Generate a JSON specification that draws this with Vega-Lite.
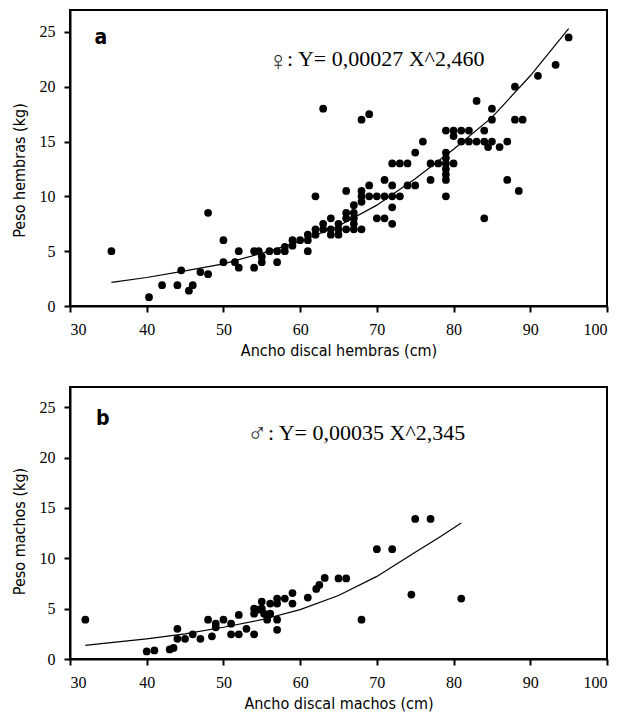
{
  "$schema": "https://vega.github.io/schema/vega-lite/v6.json",
  "padding": {"left": 10, "top": 9, "right": 14, "bottom": 5},
  "spacing": 27,
  "background": "white",
  "datasets": {
    "fem": [
      {"ancho":35.4,"peso":5.0},{"ancho":40.3,"peso":0.8},{"ancho":42.0,"peso":1.9},{"ancho":44.0,"peso":1.9},{"ancho":44.5,"peso":3.25},{"ancho":45.5,"peso":1.4},{"ancho":46.0,"peso":1.9},{"ancho":47.0,"peso":3.1},{"ancho":48.0,"peso":2.9},{"ancho":48.0,"peso":8.5},
      {"ancho":50.0,"peso":6.0},{"ancho":50.0,"peso":4.0},{"ancho":51.5,"peso":4.0},{"ancho":52.0,"peso":3.5},{"ancho":52.0,"peso":5.0},{"ancho":54.0,"peso":5.0},{"ancho":54.0,"peso":3.5},{"ancho":54.6,"peso":5.0},{"ancho":55.0,"peso":4.5},{"ancho":55.0,"peso":4.0},
      {"ancho":56.0,"peso":5.0},{"ancho":57.0,"peso":4.0},{"ancho":57.0,"peso":5.0},{"ancho":58.0,"peso":5.0},{"ancho":58.0,"peso":5.4},{"ancho":59.0,"peso":5.5},{"ancho":59.0,"peso":6.0},{"ancho":60.0,"peso":6.0},{"ancho":61.0,"peso":6.0},{"ancho":61.0,"peso":5.0},
      {"ancho":61.0,"peso":6.5},{"ancho":62.0,"peso":10.0},{"ancho":62.0,"peso":6.5},{"ancho":62.0,"peso":7.0},{"ancho":63.0,"peso":7.0},{"ancho":63.0,"peso":7.5},{"ancho":63.0,"peso":18.0},{"ancho":64.0,"peso":8.0},{"ancho":64.0,"peso":6.5},{"ancho":64.0,"peso":7.0},
      {"ancho":65.0,"peso":7.5},{"ancho":65.0,"peso":6.5},{"ancho":65.0,"peso":7.0},{"ancho":66.0,"peso":10.5},{"ancho":66.0,"peso":8.5},{"ancho":66.0,"peso":8.0},{"ancho":66.0,"peso":7.0},{"ancho":67.0,"peso":9.2},{"ancho":67.0,"peso":8.5},{"ancho":67.0,"peso":8.0},
      {"ancho":67.0,"peso":7.0},{"ancho":67.0,"peso":7.5},{"ancho":68.0,"peso":7.0},{"ancho":68.0,"peso":10.0},{"ancho":68.0,"peso":10.5},{"ancho":68.0,"peso":9.5},{"ancho":68.0,"peso":17.0},{"ancho":69.0,"peso":17.5},{"ancho":69.0,"peso":11.0},{"ancho":69.0,"peso":10.0},
      {"ancho":70.0,"peso":10.0},{"ancho":70.0,"peso":8.0},{"ancho":71.0,"peso":8.0},{"ancho":71.0,"peso":11.5},{"ancho":71.0,"peso":10.0},{"ancho":72.0,"peso":11.0},{"ancho":72.0,"peso":10.0},{"ancho":72.0,"peso":9.0},{"ancho":72.0,"peso":7.5},{"ancho":72.0,"peso":13.0},
      {"ancho":73.0,"peso":13.0},{"ancho":74.0,"peso":13.0},{"ancho":73.0,"peso":10.0},{"ancho":74.0,"peso":11.0},{"ancho":75.0,"peso":11.0},{"ancho":75.0,"peso":14.0},{"ancho":76.0,"peso":15.0},{"ancho":77.0,"peso":13.0},{"ancho":77.0,"peso":11.5},{"ancho":78.0,"peso":13.0},
      {"ancho":79.0,"peso":13.0},{"ancho":79.0,"peso":14.0},{"ancho":79.0,"peso":13.5},{"ancho":79.0,"peso":12.5},{"ancho":79.0,"peso":12.0},{"ancho":79.0,"peso":11.5},{"ancho":79.0,"peso":10.0},{"ancho":80.0,"peso":13.0},{"ancho":79.0,"peso":16.0},{"ancho":80.0,"peso":15.5},
      {"ancho":80.0,"peso":16.0},{"ancho":81.0,"peso":16.0},{"ancho":81.0,"peso":15.0},{"ancho":82.0,"peso":15.0},{"ancho":83.0,"peso":15.0},{"ancho":82.0,"peso":16.0},{"ancho":83.0,"peso":18.7},{"ancho":84.0,"peso":16.0},{"ancho":84.0,"peso":15.0},{"ancho":84.0,"peso":8.0},
      {"ancho":85.0,"peso":18.0},{"ancho":85.0,"peso":17.0},{"ancho":85.0,"peso":15.0},{"ancho":84.5,"peso":14.5},{"ancho":86.0,"peso":14.5},{"ancho":87.0,"peso":15.0},{"ancho":87.0,"peso":11.5},{"ancho":88.0,"peso":20.0},{"ancho":88.0,"peso":17.0},{"ancho":88.5,"peso":10.5},
      {"ancho":89.0,"peso":17.0},{"ancho":91.0,"peso":21.0},{"ancho":93.3,"peso":22.0},{"ancho":95.0,"peso":24.5}
    ],
    "femCurve": [
      {"ancho":35.4,"peso":2.15},{"ancho":40,"peso":2.6},{"ancho":45,"peso":3.2},{"ancho":50,"peso":3.85},{"ancho":55,"peso":4.8},{"ancho":60,"peso":5.9},{"ancho":65,"peso":7.3},{"ancho":70,"peso":9.2},{"ancho":75,"peso":11.6},{"ancho":80,"peso":14.3},{"ancho":85,"peso":17.2},{"ancho":90,"peso":21.0},{"ancho":95,"peso":25.3}
    ],
    "femText": [
      {"ancho":33.2,"peso":23.9,"label":"a","kind":"panel"},
      {"ancho":55.8,"peso":21.5,"label":"♀","kind":"sym"},
      {"ancho":58.3,"peso":21.9,"label":": Y= 0,00027 X^2,460","kind":"eq"}
    ],
    "masc": [
      {"ancho":32,"peso":3.9},{"ancho":40,"peso":0.75},{"ancho":41,"peso":0.85},{"ancho":43,"peso":0.95},{"ancho":43.5,"peso":1.1},{"ancho":44,"peso":3.0},{"ancho":44,"peso":2.0},{"ancho":45,"peso":2.0},{"ancho":46,"peso":2.45},{"ancho":47,"peso":2.0},
      {"ancho":48,"peso":3.9},{"ancho":48.5,"peso":2.25},{"ancho":49,"peso":3.5},{"ancho":49,"peso":3.15},{"ancho":50,"peso":3.9},{"ancho":51,"peso":3.5},{"ancho":51,"peso":2.45},{"ancho":52,"peso":4.37},{"ancho":52,"peso":2.45},{"ancho":53,"peso":3.0},
      {"ancho":54,"peso":5.0},{"ancho":54,"peso":4.5},{"ancho":54,"peso":2.45},{"ancho":54.5,"peso":4.9},{"ancho":55,"peso":5.7},{"ancho":55,"peso":5.0},{"ancho":55.3,"peso":4.5},{"ancho":55.7,"peso":4.25},{"ancho":55.7,"peso":3.9},{"ancho":56.1,"peso":5.5},
      {"ancho":56.1,"peso":4.5},{"ancho":57,"peso":6.0},{"ancho":57,"peso":5.5},{"ancho":57,"peso":3.9},{"ancho":57,"peso":2.9},{"ancho":58,"peso":6.0},{"ancho":59,"peso":6.55},{"ancho":59,"peso":5.5},{"ancho":61,"peso":6.1},{"ancho":62.1,"peso":6.95},
      {"ancho":62.5,"peso":7.35},{"ancho":63.2,"peso":8.05},{"ancho":65,"peso":8.0},{"ancho":66,"peso":8.0},{"ancho":68,"peso":3.9},{"ancho":70,"peso":10.9},{"ancho":72,"peso":10.9},{"ancho":74.5,"peso":6.4},{"ancho":75,"peso":13.9},{"ancho":77,"peso":13.9},
      {"ancho":81,"peso":6.0}
    ],
    "mascCurve": [
      {"ancho":32,"peso":1.35},{"ancho":35,"peso":1.6},{"ancho":40,"peso":2.0},{"ancho":45,"peso":2.5},{"ancho":50,"peso":3.15},{"ancho":55,"peso":3.9},{"ancho":60,"peso":4.9},{"ancho":65,"peso":6.3},{"ancho":70,"peso":8.2},{"ancho":75,"peso":10.6},{"ancho":78,"peso":12.0},{"ancho":81,"peso":13.5}
    ],
    "mascText": [
      {"ancho":33.4,"peso":23.2,"label":"b","kind":"panel"},
      {"ancho":53.1,"peso":21.5,"label":"♂","kind":"sym"},
      {"ancho":55.8,"peso":21.7,"label":": Y= 0,00035 X^2,345","kind":"eq"}
    ]
  },
  "vconcat": [
    {
      "width": 537,
      "height": 296,
      "layer": [
        {
          "data": {"name": "fem"},
          "mark": {"type": "circle", "color": "black", "opacity": 1, "size": 60},
          "encoding": {
            "x": {"field": "ancho", "type": "quantitative", "scale": {"domain": [30, 100], "nice": false}, "axis": {"values": [30,40,50,60,70,80,90,100], "title": "Ancho discal hembras (cm)"}},
            "y": {"field": "peso", "type": "quantitative", "scale": {"domain": [0, 27], "nice": false}, "axis": {"values": [0,5,10,15,20,25], "title": "Peso hembras (kg)", "titleY": 160}}
          }
        },
        {
          "data": {"name": "femCurve"},
          "mark": {"type": "line", "color": "black", "strokeWidth": 1.2},
          "encoding": {
            "x": {"field": "ancho", "type": "quantitative"},
            "y": {"field": "peso", "type": "quantitative"}
          }
        },
        {
          "data": {"name": "femText"},
          "transform": [{"filter": "datum.kind == 'eq'"}],
          "mark": {"type": "text", "align": "left", "baseline": "alphabetic", "font": "Liberation Serif, DejaVu Serif, serif", "fontSize": 22, "color": "black"},
          "encoding": {
            "x": {"field": "ancho", "type": "quantitative"},
            "y": {"field": "peso", "type": "quantitative"},
            "text": {"field": "label"}
          }
        },
        {
          "data": {"name": "femText"},
          "transform": [{"filter": "datum.kind == 'sym'"}],
          "mark": {"type": "text", "align": "left", "baseline": "alphabetic", "font": "DejaVu Sans", "fontSize": 27, "fontWeight": 200, "color": "#333"},
          "encoding": {
            "x": {"field": "ancho", "type": "quantitative"},
            "y": {"field": "peso", "type": "quantitative"},
            "text": {"field": "label"}
          }
        },
        {
          "data": {"name": "femText"},
          "transform": [{"filter": "datum.kind == 'panel'"}],
          "mark": {"type": "text", "align": "left", "baseline": "alphabetic", "font": "DejaVu Sans Condensed, sans-serif", "fontSize": 21, "fontWeight": "bold", "color": "black"},
          "encoding": {
            "x": {"field": "ancho", "type": "quantitative"},
            "y": {"field": "peso", "type": "quantitative"},
            "text": {"field": "label"}
          }
        }
      ]
    },
    {
      "width": 537,
      "height": 272,
      "layer": [
        {
          "data": {"name": "masc"},
          "mark": {"type": "circle", "color": "black", "opacity": 1, "size": 60},
          "encoding": {
            "x": {"field": "ancho", "type": "quantitative", "scale": {"domain": [30, 100], "nice": false}, "axis": {"values": [30,40,50,60,70,80,90,100], "title": "Ancho discal machos (cm)"}},
            "y": {"field": "peso", "type": "quantitative", "scale": {"domain": [0, 27], "nice": false}, "axis": {"values": [0,5,10,15,20,25], "title": "Peso machos (kg)", "titleY": 144}}
          }
        },
        {
          "data": {"name": "mascCurve"},
          "mark": {"type": "line", "color": "black", "strokeWidth": 1.2},
          "encoding": {
            "x": {"field": "ancho", "type": "quantitative"},
            "y": {"field": "peso", "type": "quantitative"}
          }
        },
        {
          "data": {"name": "mascText"},
          "transform": [{"filter": "datum.kind == 'eq'"}],
          "mark": {"type": "text", "align": "left", "baseline": "alphabetic", "font": "Liberation Serif, DejaVu Serif, serif", "fontSize": 22, "color": "black"},
          "encoding": {
            "x": {"field": "ancho", "type": "quantitative"},
            "y": {"field": "peso", "type": "quantitative"},
            "text": {"field": "label"}
          }
        },
        {
          "data": {"name": "mascText"},
          "transform": [{"filter": "datum.kind == 'sym'"}],
          "mark": {"type": "text", "align": "left", "baseline": "alphabetic", "font": "DejaVu Sans", "fontSize": 27, "fontWeight": 200, "color": "#333"},
          "encoding": {
            "x": {"field": "ancho", "type": "quantitative"},
            "y": {"field": "peso", "type": "quantitative"},
            "text": {"field": "label"}
          }
        },
        {
          "data": {"name": "mascText"},
          "transform": [{"filter": "datum.kind == 'panel'"}],
          "mark": {"type": "text", "align": "left", "baseline": "alphabetic", "font": "DejaVu Sans Condensed, sans-serif", "fontSize": 21, "fontWeight": "bold", "color": "black"},
          "encoding": {
            "x": {"field": "ancho", "type": "quantitative"},
            "y": {"field": "peso", "type": "quantitative"},
            "text": {"field": "label"}
          }
        }
      ]
    }
  ],
  "config": {
    "view": {"stroke": "black", "strokeWidth": 2},
    "axis": {
      "grid": false,
      "domainColor": "black",
      "domainWidth": 2,
      "tickColor": "black",
      "tickWidth": 2,
      "tickSize": 6,
      "labelFont": "Liberation Serif",
      "labelFontSize": 16,
      "labelColor": "black",
      "labelPadding": 9,
      "titleFont": "DejaVu Sans Condensed, sans-serif",
      "titleFontSize": 16,
      "titleFontWeight": "normal",
      "titleColor": "black",
      "titlePadding": 5
    },
    "axisY": {"titlePadding": 12}
  }
}
